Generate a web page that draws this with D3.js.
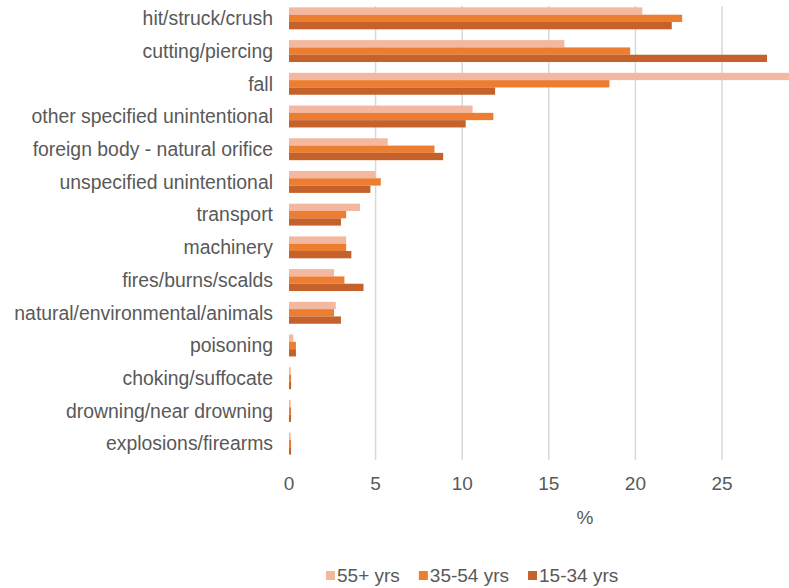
<!DOCTYPE html>
<html><head><meta charset="utf-8">
<script src="https://cdn.jsdelivr.net/npm/d3@7"></script>
<style>html,body{margin:0;padding:0;background:#fff;overflow:hidden}</style>
</head><body><svg id="c" width="789" height="588"></svg>
<script>
const categories = ["hit/struck/crush","cutting/piercing","fall","other specified unintentional","foreign body - natural orifice","unspecified unintentional","transport","machinery","fires/burns/scalds","natural/environmental/animals","poisoning","choking/suffocate","drowning/near drowning","explosions/firearms"];
const seriesNames = ["55+ yrs","35-54 yrs","15-34 yrs"];
const s55 = [20.4,15.9,29.5,10.6,5.7,5.0,4.1,3.3,2.6,2.7,0.25,0.1,0.1,0.1];
const s35 = [22.7,19.7,18.5,11.8,8.4,5.3,3.3,3.3,3.2,2.6,0.4,0.12,0.12,0.12];
const s15 = [22.1,27.6,11.9,10.2,8.9,4.7,3.0,3.6,4.3,3.0,0.4,0.12,0.12,0.12];
const xTicks = [0,5,10,15,20,25];
const colors = ["#F4B7A0","#ED7D31","#C5612B"];
const seriesVals = [s55,s35,s15];

const svg = d3.select("#c");
const font = "'Liberation Sans', Arial, sans-serif";
const textCol = "#595959";
const x = d3.scaleLinear().domain([0,30]).range([289, 289+30*17.32]);
const y = d3.scaleBand().domain(categories).range([2,460]).paddingInner(0.33).paddingOuter(0.165);
const ys = d3.scaleBand().domain(d3.range(3)).range([0,y.bandwidth()]);

// gridlines
svg.append("g").selectAll("line").data(xTicks.filter(t=>t>0)).join("line")
  .attr("x1",d=>x(d)).attr("x2",d=>x(d)).attr("y1",6).attr("y2",460)
  .attr("stroke","#D9D9D9").attr("stroke-width",1.5);

// bars
categories.forEach((c,i)=>{
  seriesVals.forEach((vals,j)=>{
    svg.append("rect").attr("x",x(0)).attr("y",y(c)+ys(j))
      .attr("width",x(vals[i])-x(0)).attr("height",ys.bandwidth())
      .attr("fill",colors[j]);
  });
});

// category labels
svg.append("g").selectAll("text").data(categories).join("text")
  .attr("x",273).attr("y",d=>y(d)+y.bandwidth()/2).attr("dy","0.35em")
  .attr("text-anchor","end").attr("font-family",font).attr("font-size",19.4)
  .attr("fill",textCol).text(d=>d);

// x tick labels
svg.append("g").selectAll("text").data(xTicks).join("text")
  .attr("x",d=>x(d)).attr("y",483).attr("dy","0.35em").attr("text-anchor","middle")
  .attr("font-family",font).attr("font-size",19).attr("fill",textCol).text(d=>d);

svg.append("text").attr("x",585).attr("y",517).attr("dy","0.35em").attr("text-anchor","middle")
  .attr("font-family",font).attr("font-size",19).attr("fill",textCol).text("%");

// legend
const lg = svg.append("g");
let lx = 326;
seriesNames.forEach((n,j)=>{
  lg.append("rect").attr("x",lx).attr("y",571).attr("width",9).attr("height",9).attr("fill",colors[j]);
  const t = lg.append("text").attr("x",lx+11).attr("y",575).attr("dy","0.35em")
    .attr("font-family",font).attr("font-size",19).attr("fill",textCol).text(n);
  lx += 11 + t.node().getComputedTextLength() + 19;
});
</script></body></html>
